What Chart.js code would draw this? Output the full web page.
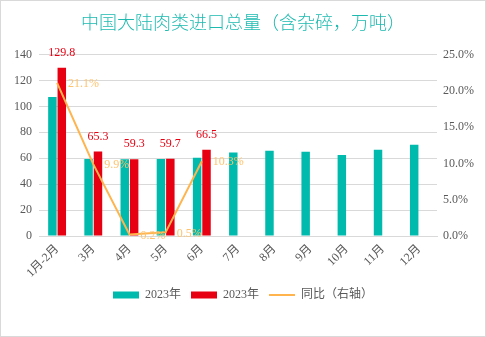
<!DOCTYPE html>
<html>
<head>
<meta charset="utf-8">
<script src="https://cdn.jsdelivr.net/npm/chart.js@4"></script>
<style>
  html, body { margin: 0; padding: 0; background: #fff; }
  #wrap { width: 486px; height: 337px; box-sizing: border-box; border: 1px solid #d9d9d9; }
  canvas { display: block; }
</style>
</head>
<body>
<div id="wrap"><canvas id="c" width="484" height="335"></canvas></div>
<script>
/* 中国大陆肉类进口总量 — 柱 + 同比折线 */

const months = ['1月-2月', '3月', '4月', '5月', '6月', '7月', '8月', '9月', '10月', '11月', '12月'];
const prevYear = [107.2, 59.4, 59.2, 59.4, 60.3, 64.4, 65.7, 65.0, 62.6, 66.5, 70.4];
const curYear = [129.8, 65.3, 59.3, 59.7, 66.5, null, null, null, null, null, null];
const yoy = [21.1, 9.9, 0.2, 0.5, 10.3, null, null, null, null, null, null];
const leftTicks = [0, 20, 40, 60, 80, 100, 120, 140];
const rightTicks = [0, 5, 10, 15, 20, 25];

const TEAL = '#00BAAD';
const RED = '#E60012';
const ORANGE = '#FFB44D';
const GREY = '#595959';
const FONT = "'Liberation Serif', 'Noto Sans CJK SC', serif";

const valueLabels = {
  id: 'valueLabels',
  afterDatasetsDraw(chart) {
    const ctx = chart.ctx;
    ctx.save();
    ctx.font = '12px ' + FONT;
    ctx.textBaseline = 'middle';
    // 红柱数值
    ctx.fillStyle = RED;
    ctx.textAlign = 'center';
    chart.getDatasetMeta(1).data.forEach((el, i) => {
      if (curYear[i] == null) return;
      ctx.fillText(curYear[i].toFixed(1), el.x, el.y - 15);
    });
    // 同比标签
    ctx.fillStyle = '#FFC36E';
    ctx.textAlign = 'left';
    chart.getDatasetMeta(2).data.forEach((el, i) => {
      if (yoy[i] == null) return;
      ctx.fillText(yoy[i].toFixed(1) + '%', el.x + 11, el.y + 1);
    });
    ctx.restore();
  }
};

new Chart(document.getElementById('c'), {
  type: 'bar',
  data: {
    labels: months,
    datasets: [
      { label: '2023年', data: prevYear, backgroundColor: TEAL, yAxisID: 'y', order: 1,
        categoryPercentage: 0.52, barPercentage: 0.9 },
      { label: '2023年', data: curYear, backgroundColor: RED, yAxisID: 'y', order: 1,
        categoryPercentage: 0.52, barPercentage: 0.9 },
      { type: 'line', label: '同比（右轴）', data: yoy, borderColor: ORANGE, backgroundColor: ORANGE,
        borderWidth: 2, pointRadius: 0, tension: 0, yAxisID: 'y1', order: 0 }
    ]
  },
  options: {
    responsive: false,
    animation: false,
    layout: { padding: { top: 0, left: 0, right: 0, bottom: 25 } },
    plugins: {
      title: {
        display: true,
        text: '中国大陆肉类进口总量（含杂碎，万吨）',
        color: '#1DBAB0',
        font: { family: "'Noto Sans CJK SC', sans-serif", size: 18, weight: 300 },
        padding: { top: 10, bottom: 22 }
      },
      legend: {
        position: 'bottom',
        labels: {
          color: GREY,
          font: { family: FONT, size: 12 },
          usePointStyle: true,
          pointStyleWidth: 26,
          boxHeight: 7,
          padding: 10,
          generateLabels(chart) {
            return chart.data.datasets.map((ds, i) => ({
              text: ds.label,
              datasetIndex: i,
              fillStyle: ds.backgroundColor,
              strokeStyle: i === 2 ? ORANGE : ds.backgroundColor,
              lineWidth: i === 2 ? 2 : 0,
              pointStyle: i === 2 ? 'line' : 'rect',
              fontColor: GREY
            }));
          }
        }
      },
      tooltip: { enabled: false }
    },
    scales: {
      x: {
        grid: { display: false, drawTicks: false },
        border: { color: '#d9d9d9' },
        ticks: { color: GREY, font: { family: FONT, size: 12 }, minRotation: 45, maxRotation: 45, padding: 6 },
        afterFit(s) { s.height = 43; }
      },
      y: {
        position: 'left',
        min: 0, max: 140,
        afterBuildTicks(s) { s.ticks = leftTicks.map(v => ({ value: v })); },
        grid: { color: '#d9d9d9', drawTicks: false },
        border: { display: false },
        ticks: { color: GREY, font: { family: FONT, size: 12 }, padding: 7 },
        afterFit(s) { s.width = 38; }
      },
      y1: {
        position: 'right',
        min: 0, max: 25,
        afterBuildTicks(s) { s.ticks = rightTicks.map(v => ({ value: v })); },
        grid: { display: false, drawTicks: false },
        border: { display: false },
        ticks: { color: GREY, font: { family: FONT, size: 12 }, padding: 6,
          callback: v => v.toFixed(1) + '%' },
        afterFit(s) { s.width = 48; }
      }
    }
  },
  plugins: [valueLabels]
});
</script>
</body>
</html>
